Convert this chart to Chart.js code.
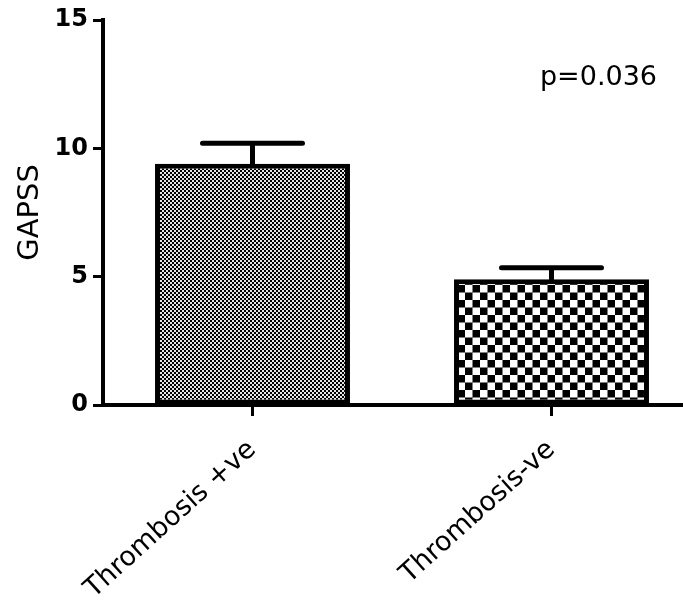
<!DOCTYPE html>
<html>
<head>
<meta charset="utf-8">
<script src="https://cdn.jsdelivr.net/npm/chart.js@4/dist/chart.umd.min.js"></script>
<style>
  html, body { margin: 0; background: #fff; overflow: hidden; }
</style>
</head>
<body>
<!-- a little wider than the window: the x axis runs off the right edge as in the figure -->
<canvas id="c" width="701" height="601"></canvas>
<script>
// --- data ---
const groups    = ['Thrombosis +ve', 'Thrombosis-ve'];
const meanGapss = [9.4, 4.9];
const semGapss  = [0.8, 0.45];
const yTicks    = [0, 5, 10, 15];
const pLabel    = 'p=0.036';

const ctx = document.getElementById('c').getContext('2d');

// checkerboard fill: tile = period in px, hole = side of each white square
function checker(tile, hole) {
  const t = document.createElement('canvas');
  t.width = t.height = tile;
  const g = t.getContext('2d');
  const h = tile / 2, m = (h - hole) / 2;
  g.fillStyle = '#000';
  g.fillRect(0, 0, tile, tile);
  g.fillStyle = '#fff';
  g.fillRect(m, m, hole, hole);
  g.fillRect(h + m, h + m, hole, hole);
  return ctx.createPattern(t, 'repeat');
}

const errorBars = {
  id: 'errorBars',
  afterDatasetsDraw(chart) {
    const meta = chart.getDatasetMeta(0);
    const y = chart.scales.y;
    const c = chart.ctx;
    c.save();
    c.strokeStyle = '#000';
    c.lineWidth = 5;
    c.lineCap = 'round';
    meta.data.forEach((bar, i) => {
      const top = y.getPixelForValue(meanGapss[i] + semGapss[i]);
      c.beginPath();
      c.moveTo(bar.x, bar.y);
      c.lineTo(bar.x, top);
      c.moveTo(bar.x - 50, top);
      c.lineTo(bar.x + 50, top);
      c.stroke();
    });
    c.restore();
  }
};

const pValue = {
  id: 'pValue',
  afterDraw(chart) {
    const c = chart.ctx;
    c.save();
    c.font = '27px "DejaVu Sans"';
    c.fillStyle = '#000';
    c.textAlign = 'right';
    c.textBaseline = 'alphabetic';
    c.fillText(pLabel, 657, chart.scales.y.getPixelForValue(12.45));
    c.restore();
  }
};

new Chart(ctx, {
  type: 'bar',
  data: {
    labels: groups,
    datasets: [{
      data: meanGapss,
      backgroundColor: [checker(4, 1.9), checker(15, 7.5)],
      borderColor: '#000',
      borderWidth: 5,
      borderSkipped: false,
      barPercentage: 0.652,
      categoryPercentage: 1
    }]
  },
  options: {
    responsive: false,
    animation: false,
    layout: { padding: { top: 20, right: 0, left: 0, bottom: 0 } },
    plugins: { legend: { display: false }, tooltip: { enabled: false } },
    scales: {
      x: {
        grid: { offset: false, drawOnChartArea: false, drawTicks: true, tickLength: 11, tickWidth: 3, tickColor: '#000' },
        border: { display: true, width: 4, color: '#000' },
        ticks: { minRotation: 42, maxRotation: 42, color: '#000', padding: 18,
                 font: { family: 'DejaVu Sans', size: 27 } },
        afterFit: s => { s.height = 196; }
      },
      y: {
        min: 0,
        max: 15,
        afterBuildTicks: s => { s.ticks = yTicks.map(v => ({ value: v })); },
        grid: { drawOnChartArea: false, drawTicks: true, tickLength: 10, tickWidth: 3, tickColor: '#000' },
        border: { display: true, width: 4, color: '#000' },
        ticks: { color: '#000', padding: 5,
                 font: { family: 'DejaVu Sans', size: 24, weight: 'bold' } },
        title: { display: true, text: 'GAPSS', color: '#000', padding: { top: 13, bottom: 0 },
                 font: { family: 'DejaVu Sans', size: 29 } },
        afterFit: s => { s.width = 103; }
      }
    }
  },
  plugins: [errorBars, pValue]
});
</script>
</body>
</html>
